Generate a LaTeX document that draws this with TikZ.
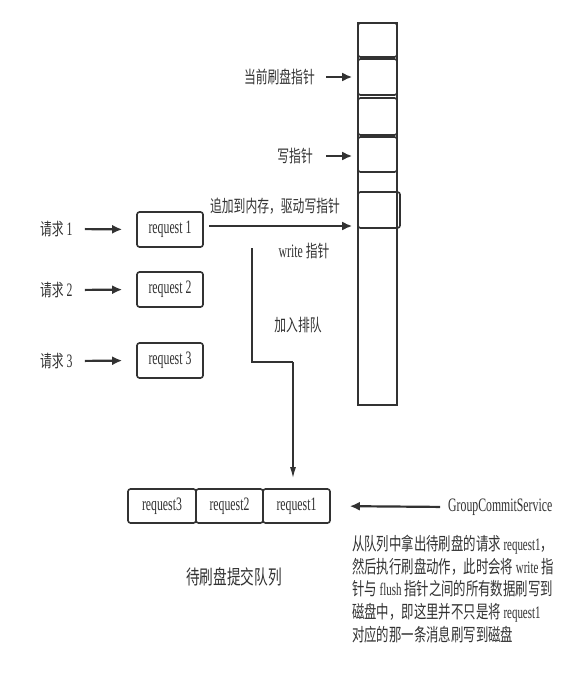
\documentclass[tikz,border=0pt]{standalone}
\usepackage{fontspec}
\setmainfont{Liberation Serif}[FakeStretch=0.62]
\newfontfamily\cjk{Noto Sans CJK SC}[FakeStretch=0.69, Scale=0.9]
\newfontfamily\cjkp{Noto Sans CJK SC}[FakeStretch=0.69, Scale=1.02]
\newcommand\zh[1]{{\cjk #1}}
\newcommand\zhp[1]{{\cjkp #1}}
\usetikzlibrary{arrows.meta}
\definecolor{ink}{RGB}{50,50,50}
\begin{document}
\begin{tikzpicture}[x=1pt,y=-1pt,
  every node/.style={text=ink, inner sep=0pt},
  lbl/.style={font=\fontsize{19}{20}\selectfont},
  rbox/.style={draw=ink, rounded corners=2.5pt, line width=1.6pt, minimum width=66pt, minimum height=35pt, font=\fontsize{19}{20}\selectfont},
  slot/.style={draw=ink, rounded corners=2.5pt, line width=1.6pt, minimum width=39pt},
  arr/.style={draw=ink, line width=2.2pt, -{Latex[length=10pt,width=9pt]}},
  line/.style={draw=ink, line width=1.5pt}
]
\path[use as bounding box, fill=white] (0,0) rectangle (575,687);

% memory column
\node[draw=ink, line width=1.4pt, minimum width=39pt, minimum height=382pt] (col) at (377.5,214) {};
\node[slot, minimum height=34pt] (s1) at (377.5,40) {};
\node[slot, minimum height=36pt] (s2) at (377.5,77) {};
\node[slot, minimum height=37pt] (s3) at (377.5,116.5) {};
\node[slot, minimum height=35pt] (s4) at (377.5,154.5) {};
\node[slot, minimum width=42pt, minimum height=36pt] (s5) at (379,210) {};

% pointer labels
\node[lbl, anchor=east] (pflush) at (315,77) {\zh{当前刷盘指针}};
\node[lbl, anchor=east] (pwrite) at (313,156) {\zh{写指针}};
\draw[arr, shorten <=11pt, shorten >=5pt] (pflush.east) -- (pflush.east -| s2.west);
\draw[arr, shorten <=13pt, shorten >=5pt] (pwrite.east) -- (pwrite.east -| s4.west);

% requests
\node[lbl, anchor=west] (q1l) at (40,229) {\zh{请求} 1};
\node[lbl, anchor=west] (q2l) at (40,290) {\zh{请求} 2};
\node[lbl, anchor=west] (q3l) at (40,361) {\zh{请求} 3};
\node[rbox] (r1) at (170,229.5) {request 1};
\node[rbox] (r2) at (170,289.5) {request 2};
\node[rbox] (r3) at (170,360.5) {request 3};
\draw[arr, shorten <=12pt, shorten >=14pt] (q1l.east) -- (r1.west);
\draw[arr, shorten <=12pt, shorten >=14pt] (q2l.east) -- (r2.west);
\draw[arr, shorten <=12pt, shorten >=14pt] (q3l.east) -- (r3.west);

% append arrow
\coordinate (a0) at (209,226);
\draw[arr, shorten >=5pt] (a0) -- (a0 -| s5.west);
\node[lbl] (lapp) at (275,206) {\zh{追加到内存，驱动写指针}};
\node[lbl] (lwp) at (304,251) {write \zh{指针}};

% queue
\node[rbox, minimum width=68pt, minimum height=34pt] (k3) at (162,506) {request3};
\node[rbox, minimum width=67pt, minimum height=34pt] (k2) at (229.5,506) {request2};
\node[rbox, minimum width=67pt, minimum height=34pt] (k1) at (296.5,506) {request1};
\node[font=\fontsize{22}{24}\selectfont] (lq) at (234,577) {\zh{待刷盘提交队列}};

% enqueue route
\coordinate (j0) at (252,248);
\coordinate (j1) at (293,362);
\draw[line] (j0) |- (j1);
\draw[arr, line width=1.5pt, -{Latex[length=11pt,width=6pt]}, shorten >=10pt] (j1) -- (j1 |- k1.north);
\node[lbl] (lenq) at (298,325) {\zh{加入排队}};

% group commit service
\node[font=\fontsize{19}{20}\selectfont, anchor=west] (gcs) at (448,507) {GroupCommitService};
\draw[arr, shorten <=8pt, shorten >=19pt] (gcs.west) -- (k1.east);

\node[anchor=north west, align=left, font=\fontsize{17.6}{22.6}\selectfont] (desc) at (352,535)
 {\zhp{从队列中拿出待刷盘的请求} request1\zhp{，}\\
  \zhp{然后执行刷盘动作，此时会将} write \zhp{指}\\
  \zhp{针与} flush \zhp{指针之间的所有数据刷写到}\\
  \zhp{磁盘中，即这里并不只是将} request1\\
  \zhp{对应的那一条消息刷写到磁盘}};
\end{tikzpicture}
\end{document}
